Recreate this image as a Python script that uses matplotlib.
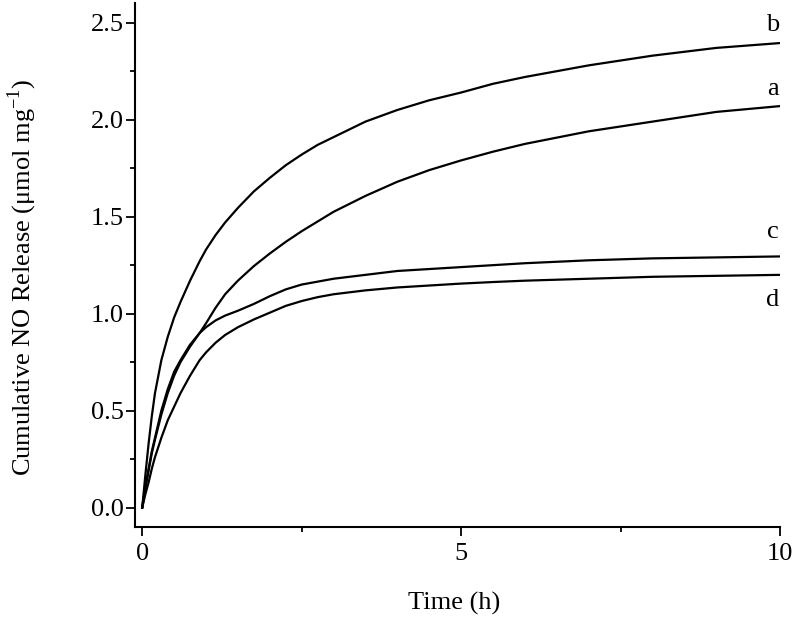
import matplotlib
matplotlib.use("Agg")
import matplotlib.pyplot as plt
from matplotlib.ticker import MultipleLocator, FormatStrFormatter

plt.rcParams['font.family'] = ['Liberation Serif', 'DejaVu Serif']
plt.rcParams['mathtext.fontset'] = 'custom'
plt.rcParams['mathtext.rm'] = 'Liberation Serif'

# Time (h)
time = [0, 0.05, 0.1, 0.15, 0.2, 0.3, 0.4, 0.5, 0.6, 0.75, 0.9, 1.0, 1.15, 1.3,
        1.5, 1.75, 2.0, 2.25, 2.5, 2.75, 3.0, 3.5, 4.0, 4.5, 5.0, 5.5, 6.0,
        7.0, 8.0, 9.0, 10.0]
# Cumulative NO release (umol/mg)
series_a = [0, 0.10, 0.19, 0.28, 0.35, 0.48, 0.59, 0.68, 0.75, 0.83, 0.90, 0.95,
            1.03, 1.10, 1.17, 1.245, 1.31, 1.37, 1.425, 1.475, 1.525, 1.607, 1.68,
            1.74, 1.79, 1.835, 1.875, 1.94, 1.99, 2.04, 2.07]
series_b = [0, 0.17, 0.33, 0.47, 0.59, 0.76, 0.88, 0.98, 1.06, 1.17, 1.27, 1.33,
            1.405, 1.47, 1.545, 1.63, 1.70, 1.765, 1.82, 1.87, 1.91, 1.99, 2.05,
            2.10, 2.14, 2.185, 2.22, 2.28, 2.33, 2.37, 2.395]
series_c = [0, 0.11, 0.20, 0.29, 0.36, 0.50, 0.61, 0.70, 0.76, 0.84, 0.90, 0.93,
            0.965, 0.99, 1.015, 1.05, 1.09, 1.125, 1.15, 1.165, 1.18, 1.20, 1.22,
            1.23, 1.24, 1.25, 1.26, 1.275, 1.285, 1.29, 1.295]
series_d = [0, 0.07, 0.13, 0.20, 0.26, 0.36, 0.45, 0.52, 0.59, 0.68, 0.76, 0.80,
            0.85, 0.89, 0.93, 0.97, 1.005, 1.04, 1.065, 1.085, 1.10, 1.12, 1.135,
            1.145, 1.155, 1.163, 1.17, 1.18, 1.19, 1.195, 1.20]
labels = ['a', 'b', 'c', 'd']
label_pos = [(9.89, 2.16), (9.89, 2.49), (9.89, 1.42), (9.89, 1.07)]

fig = plt.figure(figsize=(8, 6.22), dpi=100)
ax = fig.add_axes([0.169, 0.1527, 0.806, 0.842])

for ys in [series_a, series_b, series_c, series_d]:
    ax.plot(time, ys, color='black', lw=1.6, solid_joinstyle='round')

for lab, (x, y) in zip(labels, label_pos):
    ax.text(x, y, lab, fontsize=19, ha='center', va='center')

ax.set_xlim(-0.11, 10)
ax.set_ylim(-0.1, 2.6)
ax.spines['top'].set_visible(False)
ax.spines['right'].set_visible(False)
for s in ['left', 'bottom']:
    ax.spines[s].set_linewidth(1.5)

ax.xaxis.set_major_locator(MultipleLocator(5))
ax.xaxis.set_minor_locator(MultipleLocator(2.5))
ax.yaxis.set_major_locator(MultipleLocator(0.5))
ax.yaxis.set_minor_locator(MultipleLocator(0.25))
ax.yaxis.set_major_formatter(FormatStrFormatter('%.1f'))
ax.tick_params(which='major', length=6.5, width=1.3, labelsize=19, direction='out')
ax.tick_params(axis='y', which='major', pad=2)
ax.tick_params(axis='x', which='major', pad=5)
ax.tick_params(which='minor', length=3.5, width=1.3, direction='out')

ax.set_xlabel('Time (h)', fontsize=19, va='center')
ax.xaxis.set_label_coords(0.495, -0.145)
ax.set_ylabel(r'Cumulative NO Release (μmol mg$^{\mathregular{-1}}$)', fontsize=19,
              va='center')
ax.yaxis.set_label_coords(-0.175, 0.477)

fig.savefig('out.png', dpi=100)
